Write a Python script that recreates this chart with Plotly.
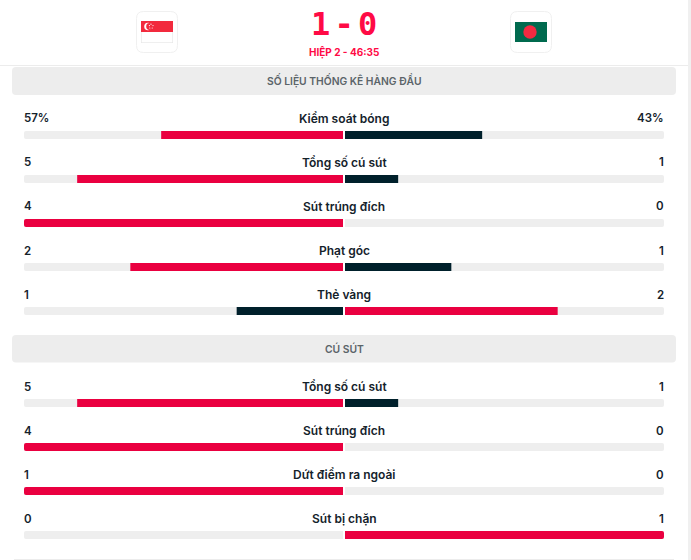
import plotly.graph_objects as go

W, H = 691, 560

# ---- data ----
section1_title = "SỐ LIỆU THỐNG KÊ HÀNG ĐẦU"
section1_stats = ["Kiểm soát bóng", "Tổng số cú sút", "Sút trúng đích", "Phạt góc", "Thẻ vàng"]
section1_home = [57, 5, 4, 2, 1]
section1_away = [43, 1, 0, 1, 2]
section1_suffix = ["%", "", "", "", ""]

section2_title = "CÚ SÚT"
section2_stats = ["Tổng số cú sút", "Sút trúng đích", "Dứt điểm ra ngoài", "Sút bị chặn"]
section2_home = [5, 4, 1, 0]
section2_away = [1, 0, 0, 1]
section2_suffix = ["", "", "", ""]

score_text = "1 - 0"
status_text = "HIỆP 2 - 46:35"

# ---- styles ----
RED = "#ea0040"
DARK = "#00202b"
TRACK = "#eeeeee"
BAND = "#ededed"
LINE = "#ececec"
TEXT = "#14222b"
FONT = "Inter"
BAR_PX = 8
ROW_PX = 44


def px(x):
    return x / W


def py(y):
    return 1 - y / H


def rrect(x0, y0, x1, y1, r):
    """Rounded rectangle path in paper coordinates (input in pixels)."""
    def P(x, y):
        return f"{px(x):.5f},{py(y):.5f}"
    return (f"M{P(x0 + r, y0)} L{P(x1 - r, y0)} Q{P(x1, y0)} {P(x1, y0 + r)} "
            f"L{P(x1, y1 - r)} Q{P(x1, y1)} {P(x1 - r, y1)} "
            f"L{P(x0 + r, y1)} Q{P(x0, y1)} {P(x0, y1 - r)} "
            f"L{P(x0, y0 + r)} Q{P(x0, y0)} {P(x0 + r, y0)} Z")


def rect(x0, y0, x1, y1, fill):
    return dict(type="rect", xref="paper", yref="paper", x0=px(x0), x1=px(x1), y0=py(y0), y1=py(y1),
                fillcolor=fill, line=dict(width=0), layer="below")


def path(d, fill, line=None, width=1):
    return dict(type="path", xref="paper", yref="paper", path=d, fillcolor=fill,
                line=dict(color=line or "rgba(0,0,0,0)", width=width if line else 0), layer="below")


def circle(cx, cy, r, fill):
    return dict(type="circle", xref="paper", yref="paper", x0=px(cx - r), x1=px(cx + r),
                y0=py(cy + r), y1=py(cy - r), fillcolor=fill, line=dict(width=0), layer="above")


fig = go.Figure()


def add_section(stats, home, away, suffix, yaxis):
    for side, xaxis, values, other in (("home", "x", home, away), ("away", "x2", away, home)):
        fig.add_trace(go.Bar(y=stats, x=[1] * len(stats), orientation="h", xaxis=xaxis, yaxis=yaxis,
                             width=BAR_PX / ROW_PX, marker=dict(color=TRACK, line=dict(width=0)),
                             hoverinfo="skip", showlegend=False))
        shares = [v / (v + o) if v + o else 0 for v, o in zip(values, other)]
        colors = [RED if v >= o else DARK for v, o in zip(values, other)]
        fig.add_trace(go.Bar(y=stats, x=shares, orientation="h", xaxis=xaxis, yaxis=yaxis,
                             width=BAR_PX / ROW_PX, marker=dict(color=colors, line=dict(width=0)),
                             name=side, showlegend=False))
    anns = []
    for s, h, a, suf in zip(stats, home, away, suffix):
        common = dict(xref="paper", yref=yaxis, y=s, yshift=16.5, showarrow=False, yanchor="middle")
        f = dict(family=FONT, size=12, color=TEXT, weight=600)
        fv = dict(f, size=11.5)
        anns.append(dict(common, x=px(344), xanchor="center", text=s, font=f))
        anns.append(dict(common, x=px(24), xshift=-2, xanchor="left", text=f"{h}{suf}", font=fv))
        anns.append(dict(common, x=px(664), xshift=2, xanchor="right", text=f"{a}{suf}", font=fv))
    return anns


annotations = []
annotations += add_section(section1_stats, section1_home, section1_away, section1_suffix, "y")
annotations += add_section(section2_stats, section2_home, section2_away, section2_suffix, "y2")


def title_ann(text, y):
    return dict(xref="paper", yref="paper", x=px(344), y=py(y), text=text, showarrow=False,
                xanchor="center", yanchor="middle",
                font=dict(family=FONT, size=10.3, color="#5b6469", weight=600))


# narrow spaces keep the score's text intact while tightening the monospace gaps
score_markup = score_text.replace(" ", "<span style='font-size:7px'> </span>")

annotations += [
    title_ann(section1_title, 80.5),
    title_ann(section2_title, 348),
    dict(xref="paper", yref="paper", x=px(343.5), y=py(24), text=score_markup, showarrow=False,
         xanchor="center", yanchor="middle",
         font=dict(family="DejaVu Sans Mono", size=32, color="#ff0a45", weight=700)),
    dict(xref="paper", yref="paper", x=px(344), y=py(52.5), text=status_text, showarrow=False,
         xanchor="center", yanchor="middle",
         font=dict(family=FONT, size=10, color="#ff0a45", weight=700)),
]

shapes = [
    # page frame
    rect(0, 65, 688, 66, LINE),
    rect(688, 0, W, H, "#f0f0f0"),
    rect(14, 559, 674, 560, LINE),
    # section bands
    path(rrect(12, 67, 676, 95, 4), BAND),
    path(rrect(12, 335, 676, 362.5, 4), BAND),
    # flag cards
    path(rrect(136.5, 11.5, 177.5, 52.5, 7), "#ffffff", "#f0f0f0"),
    path(rrect(510.5, 11.5, 551.5, 52.5, 7), "#ffffff", "#f0f0f0"),
    # Singapore flag
    rect(141, 21, 173, 32, "#f22a3d"),
    rect(141, 32, 173, 43, "#ffffff"),
    rect(141, 42.4, 173, 43, "#e4e4e4"),
    rect(141, 32, 141.6, 43, "#e4e4e4"),
    rect(172.4, 32, 173, 43, "#e4e4e4"),
    circle(148, 26.5, 3.8, "#ffffff"),
    circle(149.6, 26.5, 3.4, "#f22a3d"),
    circle(151, 24.2, .6, "#ffffff"),
    circle(153, 25.6, .6, "#ffffff"),
    circle(152.2, 28, .6, "#ffffff"),
    circle(149.8, 28, .6, "#ffffff"),
    circle(149.4, 25.6, .6, "#ffffff"),
    # Bangladesh flag
    rect(515, 22, 547, 42, "#006a4e"),
    circle(530, 32, 6.7, "#f42a41"),
]

axis_off = dict(visible=False, fixedrange=True)
fig.update_layout(
    width=W, height=H, margin=dict(l=0, r=0, t=0, b=0),
    paper_bgcolor="#ffffff", plot_bgcolor="rgba(0,0,0,0)",
    barmode="overlay", barcornerradius=2,
    xaxis=dict(axis_off, domain=[px(24), px(343)], range=[1, 0]),
    xaxis2=dict(axis_off, domain=[px(345), px(664)], range=[0, 1]),
    yaxis=dict(axis_off, domain=[py(333), py(113)], range=[len(section1_stats) - 0.5, -0.5], type="category",
               categoryorder="array", categoryarray=section1_stats),
    yaxis2=dict(axis_off, domain=[py(557), py(381)], range=[len(section2_stats) - 0.5, -0.5], type="category",
                categoryorder="array", categoryarray=section2_stats),
    shapes=shapes, annotations=annotations,
)

fig.write_html("out.html", config=dict(displayModeBar=False),
               post_script="document.body.style.margin='0';document.body.style.overflow='hidden';")
